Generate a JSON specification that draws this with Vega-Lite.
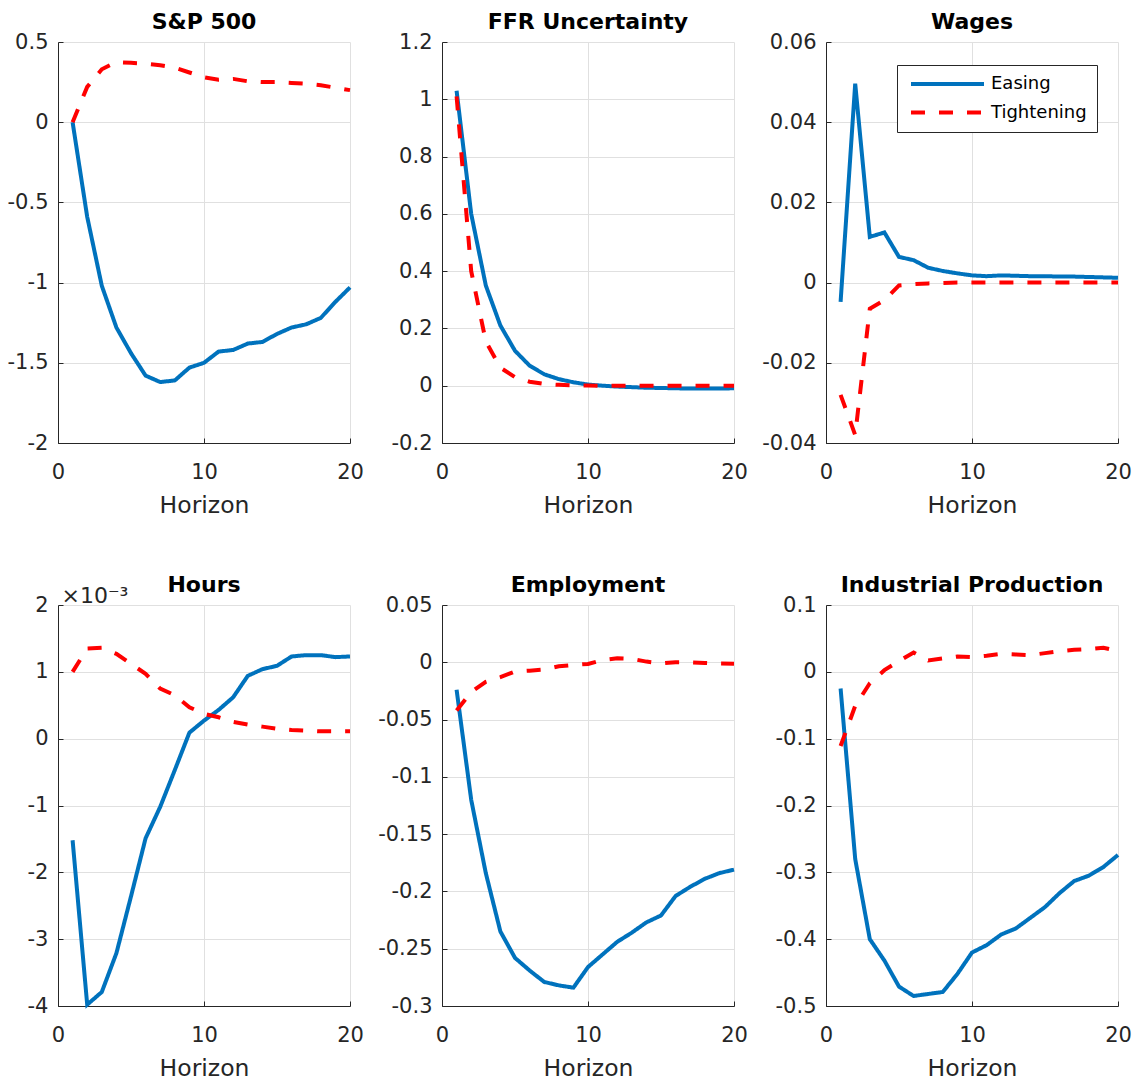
{
  "$schema": "https://vega.github.io/schema/vega-lite/v6.json",
  "padding": {"left": 7, "top": 11, "right": 5, "bottom": 5},
  "background": "white",
  "config": {
    "font": "DejaVu Sans",
    "view": {"stroke": null},
    "axis": {
      "domainColor": "#262626",
      "tickColor": "#262626",
      "gridColor": "#e0e0e0",
      "gridWidth": 1,
      "grid": true,
      "labelFont": "DejaVu Sans",
      "labelFontSize": 21,
      "labelColor": "#262626",
      "titleFont": "DejaVu Sans",
      "titleFontSize": 23.5,
      "titleFontWeight": "normal",
      "titleColor": "#262626",
      "tickSize": -5,
      "labelExpr": "'' + datum.value"
    },
    "axisX": {"labelPadding": 23, "labelFlush": false, "titleY": 69, "titleBaseline": "alphabetic"},
    "axisY": {"labelPadding": 15},
    "title": {"font": "DejaVu Sans", "fontSize": 22, "fontWeight": "bold", "color": "#000000", "frame": "group", "anchor": "middle", "offset": -3},
    "line": {"strokeWidth": 4}
  },
  "datasets": {
    "sp": [
      {"h":1,"Easing":0,"Tightening":0},
      {"h":2,"Easing":-0.59,"Tightening":0.22},
      {"h":3,"Easing":-1.02,"Tightening":0.33},
      {"h":4,"Easing":-1.28,"Tightening":0.375},
      {"h":5,"Easing":-1.44,"Tightening":0.37},
      {"h":6,"Easing":-1.58,"Tightening":0.365},
      {"h":7,"Easing":-1.62,"Tightening":0.355},
      {"h":8,"Easing":-1.61,"Tightening":0.34},
      {"h":9,"Easing":-1.53,"Tightening":0.31},
      {"h":10,"Easing":-1.5,"Tightening":0.28},
      {"h":11,"Easing":-1.43,"Tightening":0.265},
      {"h":12,"Easing":-1.42,"Tightening":0.27},
      {"h":13,"Easing":-1.38,"Tightening":0.255},
      {"h":14,"Easing":-1.37,"Tightening":0.25},
      {"h":15,"Easing":-1.32,"Tightening":0.25},
      {"h":16,"Easing":-1.28,"Tightening":0.245},
      {"h":17,"Easing":-1.26,"Tightening":0.24},
      {"h":18,"Easing":-1.22,"Tightening":0.23},
      {"h":19,"Easing":-1.12,"Tightening":0.215},
      {"h":20,"Easing":-1.03,"Tightening":0.2}
    ],
    "ffr": [
      {"h":1,"Easing":1.03,"Tightening":1.01},
      {"h":2,"Easing":0.6,"Tightening":0.4},
      {"h":3,"Easing":0.35,"Tightening":0.155},
      {"h":4,"Easing":0.21,"Tightening":0.063},
      {"h":5,"Easing":0.122,"Tightening":0.03},
      {"h":6,"Easing":0.07,"Tightening":0.014},
      {"h":7,"Easing":0.04,"Tightening":0.006},
      {"h":8,"Easing":0.023,"Tightening":0.003},
      {"h":9,"Easing":0.012,"Tightening":0.001},
      {"h":10,"Easing":0.004,"Tightening":0.0005},
      {"h":11,"Easing":0,"Tightening":0},
      {"h":12,"Easing":-0.003,"Tightening":0},
      {"h":13,"Easing":-0.005,"Tightening":0},
      {"h":14,"Easing":-0.007,"Tightening":0},
      {"h":15,"Easing":-0.008,"Tightening":0},
      {"h":16,"Easing":-0.009,"Tightening":0},
      {"h":17,"Easing":-0.01,"Tightening":0},
      {"h":18,"Easing":-0.01,"Tightening":0},
      {"h":19,"Easing":-0.01,"Tightening":0},
      {"h":20,"Easing":-0.009,"Tightening":0}
    ],
    "wages": [
      {"h":1,"Easing":-0.0048,"Tightening":-0.028},
      {"h":2,"Easing":0.0496,"Tightening":-0.038},
      {"h":3,"Easing":0.0114,"Tightening":-0.0065},
      {"h":4,"Easing":0.0125,"Tightening":-0.0044},
      {"h":5,"Easing":0.0064,"Tightening":-0.0007},
      {"h":6,"Easing":0.0056,"Tightening":-0.0004},
      {"h":7,"Easing":0.0037,"Tightening":-0.0002},
      {"h":8,"Easing":0.0029,"Tightening":-0.0001},
      {"h":9,"Easing":0.0023,"Tightening":0},
      {"h":10,"Easing":0.0018,"Tightening":0},
      {"h":11,"Easing":0.0016,"Tightening":0},
      {"h":12,"Easing":0.0018,"Tightening":0},
      {"h":13,"Easing":0.0017,"Tightening":0},
      {"h":14,"Easing":0.0016,"Tightening":0},
      {"h":15,"Easing":0.0016,"Tightening":0},
      {"h":16,"Easing":0.0015,"Tightening":0},
      {"h":17,"Easing":0.0015,"Tightening":0},
      {"h":18,"Easing":0.0014,"Tightening":0},
      {"h":19,"Easing":0.0013,"Tightening":0},
      {"h":20,"Easing":0.0012,"Tightening":0}
    ],
    "hours": [
      {"h":1,"Easing":-0.00152,"Tightening":0.001},
      {"h":2,"Easing":-0.00398,"Tightening":0.00135},
      {"h":3,"Easing":-0.00379,"Tightening":0.00136},
      {"h":4,"Easing":-0.00321,"Tightening":0.00127},
      {"h":5,"Easing":-0.00236,"Tightening":0.00112},
      {"h":6,"Easing":-0.00149,"Tightening":0.00097},
      {"h":7,"Easing":-0.00102,"Tightening":0.00075},
      {"h":8,"Easing":-0.00047,"Tightening":0.00065},
      {"h":9,"Easing":0.00009,"Tightening":0.00047},
      {"h":10,"Easing":0.00027,"Tightening":0.00037},
      {"h":11,"Easing":0.00043,"Tightening":0.00032},
      {"h":12,"Easing":0.00062,"Tightening":0.00025},
      {"h":13,"Easing":0.00094,"Tightening":0.00021},
      {"h":14,"Easing":0.00104,"Tightening":0.00018},
      {"h":15,"Easing":0.00109,"Tightening":0.00015},
      {"h":16,"Easing":0.00123,"Tightening":0.00013},
      {"h":17,"Easing":0.00125,"Tightening":0.00012},
      {"h":18,"Easing":0.00125,"Tightening":0.00011},
      {"h":19,"Easing":0.00122,"Tightening":0.00011},
      {"h":20,"Easing":0.00123,"Tightening":0.00011}
    ],
    "emp": [
      {"h":1,"Easing":-0.024,"Tightening":-0.042},
      {"h":2,"Easing":-0.12,"Tightening":-0.026},
      {"h":3,"Easing":-0.184,"Tightening":-0.017},
      {"h":4,"Easing":-0.235,"Tightening":-0.013},
      {"h":5,"Easing":-0.258,"Tightening":-0.008},
      {"h":6,"Easing":-0.269,"Tightening":-0.0073},
      {"h":7,"Easing":-0.279,"Tightening":-0.0064},
      {"h":8,"Easing":-0.282,"Tightening":-0.0035},
      {"h":9,"Easing":-0.284,"Tightening":-0.0023},
      {"h":10,"Easing":-0.266,"Tightening":-0.0015},
      {"h":11,"Easing":-0.255,"Tightening":0.002},
      {"h":12,"Easing":-0.244,"Tightening":0.0035},
      {"h":13,"Easing":-0.236,"Tightening":0.003},
      {"h":14,"Easing":-0.227,"Tightening":0.0006},
      {"h":15,"Easing":-0.221,"Tightening":-0.001},
      {"h":16,"Easing":-0.204,"Tightening":0},
      {"h":17,"Easing":-0.196,"Tightening":0},
      {"h":18,"Easing":-0.189,"Tightening":-0.0006},
      {"h":19,"Easing":-0.184,"Tightening":-0.001},
      {"h":20,"Easing":-0.181,"Tightening":-0.0012}
    ],
    "ip": [
      {"h":1,"Easing":-0.025,"Tightening":-0.111},
      {"h":2,"Easing":-0.28,"Tightening":-0.051},
      {"h":3,"Easing":-0.4,"Tightening":-0.017},
      {"h":4,"Easing":-0.432,"Tightening":0.0025},
      {"h":5,"Easing":-0.471,"Tightening":0.016},
      {"h":6,"Easing":-0.485,"Tightening":0.029},
      {"h":7,"Easing":-0.482,"Tightening":0.017},
      {"h":8,"Easing":-0.479,"Tightening":0.02},
      {"h":9,"Easing":-0.452,"Tightening":0.023},
      {"h":10,"Easing":-0.42,"Tightening":0.022},
      {"h":11,"Easing":-0.409,"Tightening":0.024},
      {"h":12,"Easing":-0.393,"Tightening":0.027},
      {"h":13,"Easing":-0.384,"Tightening":0.026},
      {"h":14,"Easing":-0.368,"Tightening":0.025},
      {"h":15,"Easing":-0.352,"Tightening":0.028},
      {"h":16,"Easing":-0.331,"Tightening":0.031},
      {"h":17,"Easing":-0.313,"Tightening":0.033},
      {"h":18,"Easing":-0.305,"Tightening":0.034},
      {"h":19,"Easing":-0.292,"Tightening":0.036},
      {"h":20,"Easing":-0.274,"Tightening":0.031}
    ]
  },
  "columns": 3,
  "spacing": {"row": 162, "column": 92},
  "bounds": "flush",
  "resolve": {"scale": {"color": "independent", "strokeDash": "independent"}, "legend": {"color": "independent", "strokeDash": "independent"}},
  "concat": [
    {
      "data": {"name": "sp"},
      "transform": [{"fold": ["Easing", "Tightening"], "as": ["s", "v"]}],
      "width": 292, "height": 401,
      "title": {"text": "S&P 500"},
      "mark": {"type": "line"},
      "encoding": {
        "x": {"field": "h", "type": "quantitative", "scale": {"domain": [0, 20]}, "axis": {"values": [0, 10, 20], "title": "Horizon"}},
        "y": {"field": "v", "type": "quantitative", "scale": {"domain": [-2, 0.5]}, "axis": {"values": [-2, -1.5, -1, -0.5, 0, 0.5], "title": null}},
        "color": {"field": "s", "type": "nominal", "scale": {"domain": ["Easing", "Tightening"], "range": ["#0072BD", "#FF0000"]}, "legend": null},
        "strokeDash": {"field": "s", "type": "nominal", "scale": {"domain": ["Easing", "Tightening"], "range": [[1, 0], [14, 14]]}, "legend": null}
      }
    },
    {
      "data": {"name": "ffr"},
      "transform": [{"fold": ["Easing", "Tightening"], "as": ["s", "v"]}],
      "width": 292, "height": 401,
      "title": {"text": "FFR Uncertainty"},
      "mark": {"type": "line"},
      "encoding": {
        "x": {"field": "h", "type": "quantitative", "scale": {"domain": [0, 20]}, "axis": {"values": [0, 10, 20], "title": "Horizon"}},
        "y": {"field": "v", "type": "quantitative", "scale": {"domain": [-0.2, 1.2]}, "axis": {"values": [-0.2, 0, 0.2, 0.4, 0.6, 0.8, 1, 1.2], "title": null}},
        "color": {"field": "s", "type": "nominal", "scale": {"domain": ["Easing", "Tightening"], "range": ["#0072BD", "#FF0000"]}, "legend": null},
        "strokeDash": {"field": "s", "type": "nominal", "scale": {"domain": ["Easing", "Tightening"], "range": [[1, 0], [14, 14]]}, "legend": null}
      }
    },
    {
      "data": {"name": "wages"},
      "transform": [{"fold": ["Easing", "Tightening"], "as": ["s", "v"]}],
      "width": 292, "height": 401,
      "title": {"text": "Wages"},
      "mark": {"type": "line"},
      "encoding": {
        "x": {"field": "h", "type": "quantitative", "scale": {"domain": [0, 20]}, "axis": {"values": [0, 10, 20], "title": "Horizon"}},
        "y": {"field": "v", "type": "quantitative", "scale": {"domain": [-0.04, 0.06]}, "axis": {"values": [-0.04, -0.02, 0, 0.02, 0.04, 0.06], "title": null}},
        "color": {"field": "s", "type": "nominal", "scale": {"domain": ["Easing", "Tightening"], "range": ["#0072BD", "#FF0000"]},
          "legend": {"orient": "none", "legendX": 71, "legendY": 23, "title": null, "fillColor": "white", "strokeColor": "#262626", "padding": 10, "symbolType": "M-1,0H13.6", "symbolSize": 100, "symbolStrokeWidth": 4, "labelFont": "DejaVu Sans", "labelFontSize": 18, "labelColor": "#000000", "labelOffset": 66, "rowPadding": 10.5}},
        "strokeDash": {"field": "s", "type": "nominal", "scale": {"domain": ["Easing", "Tightening"], "range": [[1, 0], [14, 14]]},
          "legend": {"orient": "none", "legendX": 71, "legendY": 23, "title": null, "fillColor": "white", "strokeColor": "#262626", "padding": 10, "symbolType": "M-1,0H13.6", "symbolSize": 100, "symbolStrokeWidth": 4, "labelFont": "DejaVu Sans", "labelFontSize": 18, "labelColor": "#000000", "labelOffset": 66, "rowPadding": 10.5}}
      }
    },
    {
      "data": {"name": "hours"},
      "transform": [{"fold": ["Easing", "Tightening"], "as": ["s", "v"]}],
      "width": 292, "height": 401,
      "title": {"text": "Hours", "offset": -13},
      "mark": {"type": "line"},
      "encoding": {
        "x": {"field": "h", "type": "quantitative", "scale": {"domain": [0, 20]}, "axis": {"values": [0, 10, 20], "title": "Horizon"}},
        "y": {"field": "v", "type": "quantitative", "scale": {"domain": [-0.004, 0.002]}, "axis": {"values": [-0.004, -0.003, -0.002, -0.001, 0, 0.001, 0.002], "labelExpr": "'' + round(datum.value * 1000)", "title": "×10⁻³", "titleAngle": 0, "titleAlign": "left", "titleBaseline": "alphabetic", "titleX": 3, "titleY": -3, "titleFontSize": 22}},
        "color": {"field": "s", "type": "nominal", "scale": {"domain": ["Easing", "Tightening"], "range": ["#0072BD", "#FF0000"]}, "legend": null},
        "strokeDash": {"field": "s", "type": "nominal", "scale": {"domain": ["Easing", "Tightening"], "range": [[1, 0], [14, 14]]}, "legend": null}
      }
    },
    {
      "data": {"name": "emp"},
      "transform": [{"fold": ["Easing", "Tightening"], "as": ["s", "v"]}],
      "width": 292, "height": 401,
      "title": {"text": "Employment"},
      "mark": {"type": "line"},
      "encoding": {
        "x": {"field": "h", "type": "quantitative", "scale": {"domain": [0, 20]}, "axis": {"values": [0, 10, 20], "title": "Horizon"}},
        "y": {"field": "v", "type": "quantitative", "scale": {"domain": [-0.3, 0.05]}, "axis": {"values": [-0.3, -0.25, -0.2, -0.15, -0.1, -0.05, 0, 0.05], "title": null}},
        "color": {"field": "s", "type": "nominal", "scale": {"domain": ["Easing", "Tightening"], "range": ["#0072BD", "#FF0000"]}, "legend": null},
        "strokeDash": {"field": "s", "type": "nominal", "scale": {"domain": ["Easing", "Tightening"], "range": [[1, 0], [14, 14]]}, "legend": null}
      }
    },
    {
      "data": {"name": "ip"},
      "transform": [{"fold": ["Easing", "Tightening"], "as": ["s", "v"]}],
      "width": 292, "height": 401,
      "title": {"text": "Industrial Production"},
      "mark": {"type": "line"},
      "encoding": {
        "x": {"field": "h", "type": "quantitative", "scale": {"domain": [0, 20]}, "axis": {"values": [0, 10, 20], "title": "Horizon"}},
        "y": {"field": "v", "type": "quantitative", "scale": {"domain": [-0.5, 0.1]}, "axis": {"values": [-0.5, -0.4, -0.3, -0.2, -0.1, 0, 0.1], "title": null}},
        "color": {"field": "s", "type": "nominal", "scale": {"domain": ["Easing", "Tightening"], "range": ["#0072BD", "#FF0000"]}, "legend": null},
        "strokeDash": {"field": "s", "type": "nominal", "scale": {"domain": ["Easing", "Tightening"], "range": [[1, 0], [14, 14]]}, "legend": null}
      }
    }
  ]
}
